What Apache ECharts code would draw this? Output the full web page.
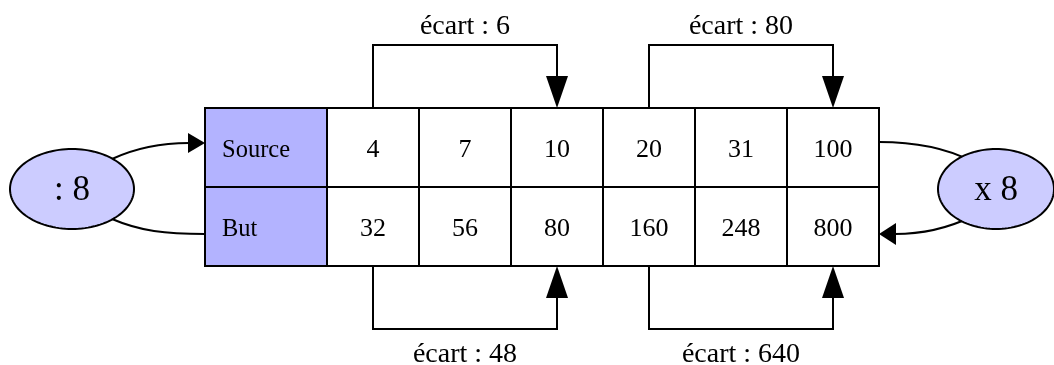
<!DOCTYPE html>
<html>
<head>
<meta charset="utf-8">
<script src="https://cdn.jsdelivr.net/npm/echarts@6/dist/echarts.min.js"></script>
<style>
html,body{margin:0;padding:0;background:#fff;}
#chart{width:1054px;height:365px;}
</style>
</head>
<body>
<div id="chart"></div>
<script>
// ---- data ----
const rowLabels = ['Source', 'But'];
const sourceValues = [4, 7, 10, 20, 31, 100];
const targetValues = [32, 56, 80, 160, 248, 800];
const ratioLabels = [': 8', 'x 8'];
const gapPairs = [[0, 2], [3, 5]];
const sourceGaps = [6, 80];
const targetGaps = [48, 640];
const gapPrefix = 'écart : ';

// ---- style / layout constants ----
const FONT = "'Liberation Serif', 'DejaVu Serif', serif";
const HEADER_W = 122;
const HEADER_FILL = '#b3b3ff';
const ELLIPSE_FILL = '#ccccff';
const LW = 2;

// build series data from arrays
const cellData = [];
[sourceValues, targetValues].forEach((vals, r) => {
  vals.forEach((v, c) => cellData.push([c, r, v]));
});
const headerData = rowLabels.map((l, r) => [0, r]);
const gapData = [];
gapPairs.forEach((p, i) => gapData.push([p[0], p[1], 0, sourceGaps[i]]));
gapPairs.forEach((p, i) => gapData.push([p[0], p[1], 1, targetGaps[i]]));
const ratioData = [[-1, 1], [1, 1]];

function textEl(x, y, text, size, align) {
  return {
    type: 'text', x: x, y: y,
    style: { text: String(text), fill: '#000', font: size + 'px ' + FONT,
      align: align || 'center', verticalAlign: 'middle' }
  };
}

function renderCell(params, api) {
  const c = api.value(0), r = api.value(1);
  const p0 = api.coord([c, r]), p1 = api.coord([c + 1, r + 1]);
  return { type: 'group', children: [
    { type: 'rect', shape: { x: p0[0], y: p0[1], width: p1[0] - p0[0], height: p1[1] - p0[1] },
      style: { fill: '#fff', stroke: '#000', lineWidth: LW } },
    textEl((p0[0] + p1[0]) / 2, (p0[1] + p1[1]) / 2 + 3, api.value(2), 26)
  ]};
}

function renderHeader(params, api) {
  const r = api.value(1);
  const p0 = api.coord([0, r]), p1 = api.coord([0, r + 1]);
  return { type: 'group', children: [
    { type: 'rect', shape: { x: p0[0] - HEADER_W, y: p0[1], width: HEADER_W, height: p1[1] - p0[1] },
      style: { fill: HEADER_FILL, stroke: '#000', lineWidth: LW } },
    textEl(p0[0] - HEADER_W + 17, (p0[1] + p1[1]) / 2 + 3, rowLabels[params.dataIndex], 24.5, 'left')
  ]};
}

function renderGap(params, api) {
  const a = api.value(0), b = api.value(1), side = api.value(2), g = api.value(3);
  const xa = api.coord([a + 0.5, 0])[0], xb = api.coord([b + 0.5, 0])[0];
  const edge = side === 0 ? api.coord([0, 0])[1] : api.coord([0, 2])[1];
  const dir = side === 0 ? -1 : 1;
  const yLine = edge + dir * 63;
  const yBase = edge + dir * 32;
  return { type: 'group', children: [
    { type: 'polyline', shape: { points: [[xa, edge], [xa, yLine], [xb, yLine], [xb, yBase]] },
      style: { stroke: '#000', lineWidth: LW, fill: null } },
    { type: 'polygon', shape: { points: [[xb - 11, yBase], [xb + 11, yBase], [xb, edge]] },
      style: { fill: '#000' } },
    textEl((xa + xb) / 2, yLine + dir * (side === 0 ? 18 : 26), gapPrefix + g, 28)
  ]};
}

function ellipsePts(cx, cy, rx, ry) {
  const pts = [];
  for (let i = 0; i < 120; i++) {
    const t = i / 120 * Math.PI * 2;
    pts.push([cx + rx * Math.cos(t), cy + ry * Math.sin(t)]);
  }
  return pts;
}

function renderRatio(params, api) {
  const s = api.value(0);
  const yc = api.coord([0, 1])[1] + 2;
  const children = [];
  if (s < 0) {
    const L = api.coord([0, 0])[0] - HEADER_W;
    const cx = L - 133, rx = 62;
    children.push({ type: 'bezierCurve', shape: { x1: L - 93, y1: yc - 30, cpx1: L - 65, cpy1: yc - 43, cpx2: L - 40, cpy2: yc - 46, x2: L - 16, y2: yc - 46 },
      style: { stroke: '#000', lineWidth: LW, fill: null } });
    children.push({ type: 'polygon', shape: { points: [[L - 17, yc - 56], [L - 17, yc - 36], [L, yc - 46]] }, style: { fill: '#000' } });
    children.push({ type: 'bezierCurve', shape: { x1: L - 93, y1: yc + 30, cpx1: L - 65, cpy1: yc + 42, cpx2: L - 40, cpy2: yc + 45, x2: L, y2: yc + 45 },
      style: { stroke: '#000', lineWidth: LW, fill: null } });
    children.push({ type: 'polygon', shape: { points: ellipsePts(cx, yc, rx, 40) },
      style: { fill: ELLIPSE_FILL, stroke: '#000', lineWidth: LW } });
    children.push(textEl(cx, yc + 2, ratioLabels[0], 35));
  } else {
    const R = api.coord([6, 0])[0];
    const cx = R + 117, rx = 58;
    children.push({ type: 'bezierCurve', shape: { x1: R, y1: yc - 47, cpx1: R + 35, cpy1: yc - 47, cpx2: R + 65, cpy2: yc - 42, x2: R + 92, y2: yc - 28 },
      style: { stroke: '#000', lineWidth: LW, fill: null } });
    children.push({ type: 'bezierCurve', shape: { x1: R + 92, y1: yc + 28, cpx1: R + 65, cpy1: yc + 41, cpx2: R + 40, cpy2: yc + 45, x2: R + 16, y2: yc + 45 },
      style: { stroke: '#000', lineWidth: LW, fill: null } });
    children.push({ type: 'polygon', shape: { points: [[R + 17, yc + 34], [R + 17, yc + 56], [R, yc + 45]] }, style: { fill: '#000' } });
    children.push({ type: 'polygon', shape: { points: ellipsePts(cx, yc, rx, 40) },
      style: { fill: ELLIPSE_FILL, stroke: '#000', lineWidth: LW } });
    children.push(textEl(cx, yc + 2, ratioLabels[1], 35));
  }
  return { type: 'group', children: children };
}

const chart = echarts.init(document.getElementById('chart'), null, { renderer: 'canvas' });
chart.setOption({
  animation: false,
  backgroundColor: '#fff',
  grid: { left: 327, top: 108, width: 552, height: 158 },
  xAxis: { type: 'value', min: 0, max: 6, show: false },
  yAxis: { type: 'value', min: 0, max: 2, inverse: true, show: false },
  series: [
    { type: 'custom', name: 'ratios', clip: false, renderItem: renderRatio, data: ratioData, silent: true, z: 1 },
    { type: 'custom', name: 'gaps', clip: false, renderItem: renderGap, data: gapData, silent: true, z: 1 },
    { type: 'custom', name: 'header', clip: false, renderItem: renderHeader, data: headerData, silent: true, z: 2 },
    { type: 'custom', name: 'cells', clip: false, renderItem: renderCell, data: cellData, silent: true, z: 2 }
  ]
});
</script>
</body>
</html>
